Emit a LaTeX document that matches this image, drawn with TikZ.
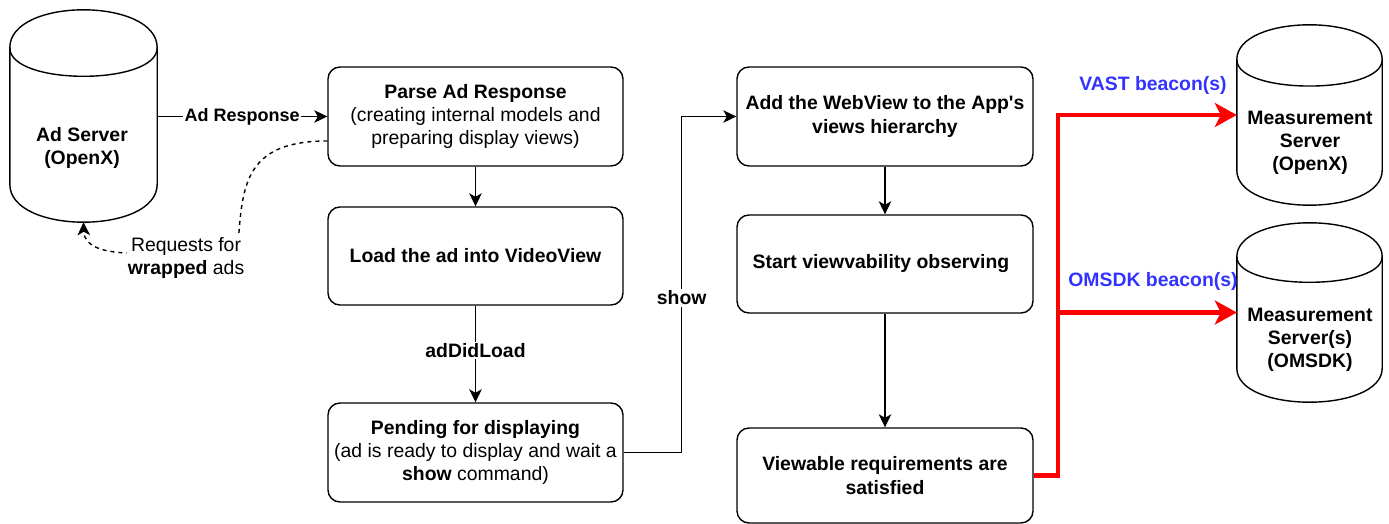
\documentclass[tikz,border=0pt]{standalone}
\usepackage{fontspec}
\setmainfont{Liberation Sans}
\usetikzlibrary{arrows.meta,calc}
\definecolor{beaconblue}{RGB}{51,51,255}
\definecolor{redline}{RGB}{255,0,0}
\newcommand\drawcyl[2]{%
  \draw[shapeline] ($(#1.north west)+(0,#2)$) .. controls ($(#1.north west)+(0,-#2/3)$) and ($(#1.north east)+(0,-#2/3)$) .. ($(#1.north east)+(0,#2)$)
    -- ($(#1.south east)+(0,-#2)$) .. controls ($(#1.south east)+(0,#2/3)$) and ($(#1.south west)+(0,#2/3)$) .. ($(#1.south west)+(0,-#2)$) -- cycle;
  \draw[shapeline] ($(#1.north west)+(0,#2)$) .. controls ($(#1.north west)+(0,2*#2)$) and ($(#1.north east)+(0,2*#2)$) .. ($(#1.north east)+(0,#2)$);
}
\tikzset{
  every node/.style={font=\fontsize{19.4}{23.3}\selectfont},
  shapeline/.style={line width=1.4pt, black},
  stepbox/.style={draw, line width=1.4pt, rounded corners=12pt, minimum width=295pt, align=center, inner sep=0pt},
  cylbox/.style={inner sep=0pt, minimum width=#1},
  cyltext/.style={align=center, font=\fontsize{19.4}{23.3}\selectfont\bfseries},
  conn/.style={line width=1.4pt, -{Stealth[length=13pt,width=12.5pt,inset=3.5pt]}},
  redconn/.style={line width=4.2pt, redline, -{Stealth[length=22pt,width=24pt,inset=6pt]}},
  lbl/.style={fill=white, inner sep=1.5pt, font=\fontsize{19.4}{23.3}\selectfont\bfseries},
  beacon/.style={text=beaconblue, font=\fontsize{19.4}{23.3}\selectfont\bfseries},
}
\begin{document}
\begin{tikzpicture}[x=1pt,y=-1pt]
\useasboundingbox (0,0) rectangle (1389,524);

% cylinders
\node[cylbox=147pt, minimum height=212pt] (adsrv) at (83.5,116) {};
\drawcyl{adsrv}{38}
\node[cyltext] (adsrvt) at (82,148) {Ad Server\\(OpenX)};

\node[cylbox=145pt, minimum height=180pt] (ms1) at (1309.5,115) {};
\drawcyl{ms1}{35}
\node[cyltext] (ms1t) at (1310,143) {Measurement\\Server\\(OpenX)};

\node[cylbox=145pt, minimum height=179pt] (ms2) at (1309.5,312.5) {};
\drawcyl{ms2}{34}
\node[cyltext] (ms2t) at (1310,340) {Measurement\\Server(s)\\(OMSDK)};

% boxes
\node[stepbox, minimum height=99pt] (parse) at (475.5,116.5)
  {\textbf{Parse Ad Response}\\(creating internal models and\\preparing display views)};
\node[stepbox, minimum height=98pt] (load) at (475.5,256)
  {\textbf{Load the ad into VideoView}};
\node[stepbox, minimum height=99pt] (pend) at (475.5,452.5)
  {\textbf{Pending for displaying}\\(ad is ready to display and wait a\\\textbf{show} command)};
\node[stepbox, minimum width=296pt, minimum height=99pt] (add) at (885,116.5)
  {\textbf{Add the WebView to the App\textquotesingle s}\\\textbf{views hierarchy}};
\node[stepbox, minimum width=296pt, minimum height=98pt] (start) at (885,264)
  {\hspace*{-8pt}\textbf{Start viewvability observing}};
\node[stepbox, minimum width=296pt, minimum height=95pt] (view) at (885,475.5)
  {\textbf{Viewable requirements are}\\\textbf{satisfied}};

% connectors
\draw[conn] (adsrv.east |- parse.west) -- (parse.west)
  node[midway, lbl, font=\fontsize{18}{21}\selectfont\bfseries] {Ad Response};
\draw[conn] (parse.south) -- (load.north);
\draw[conn] (load.south) -- (pend.north) node[pos=0.46, lbl] {adDidLoad};
\draw[conn] (pend.east) -- ++(58,0) coordinate (sj) |- (add.west);
\path (sj) -- (sj |- add.west) node[pos=0.46, lbl] {show};
\draw[conn] (add.south) -- (start.north);
\draw[conn] (start.south) -- (view.north);

% dashed request
\coordinate (dstart) at ($(parse.west)+(0,24.5)$);
\draw[conn, dash pattern=on 4pt off 4pt] (dstart) .. controls (250,141) and (243,180) .. (239,232)
  .. controls (232,262) and (150,255) .. (127,253)
  .. controls (102,252) and (84,246) .. (adsrv.south);
\node[fill=white, inner sep=1pt, align=center] (req) at (186,258) {Requests for\\\textbf{wrapped} ads};

% red beacons
\draw[redconn] (view.east) -- ++(24,0) coordinate (rj) |- (ms1.west);
\draw[redconn] (rj |- ms2.west) -- (ms2.west);
\node[beacon] (vast) at (1153,85) {VAST beacon(s)};
\node[beacon] (oms) at (1153,281) {OMSDK beacon(s)};
\end{tikzpicture}
\end{document}
